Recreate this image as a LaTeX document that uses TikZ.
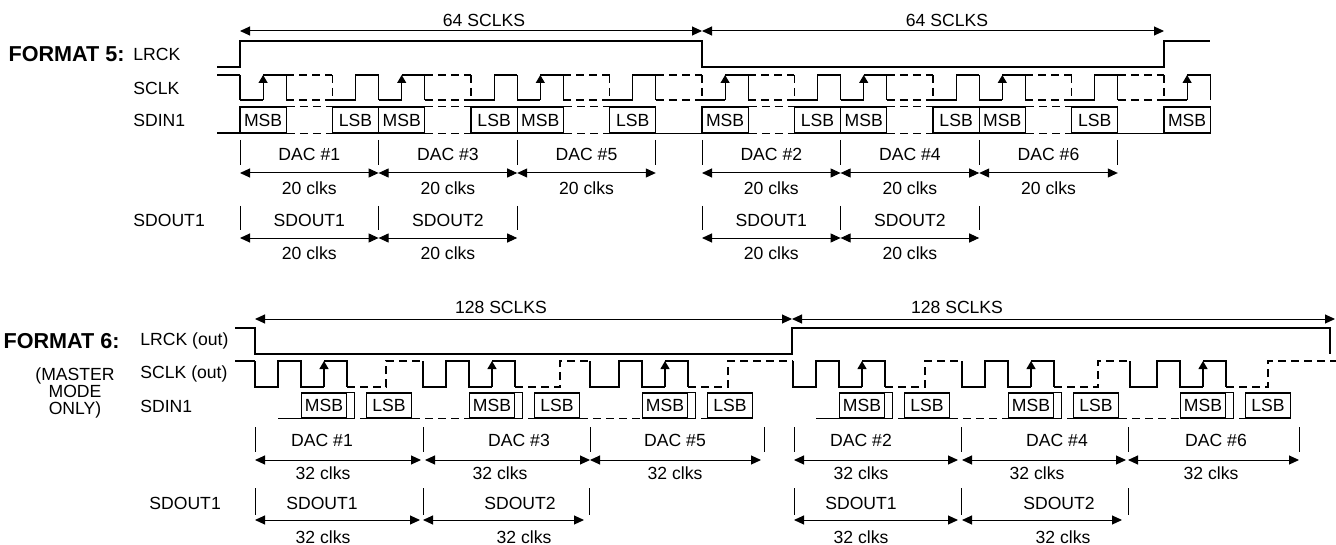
\documentclass[tikz,border=0pt]{standalone}
\usepackage{fontspec}
\setmainfont{Liberation Sans}
\usetikzlibrary{arrows.meta,calc}

\begin{document}
\begin{tikzpicture}[x=0.5pt,y=-0.5pt,
    sig/.style={line width=0.6pt},
    dsh/.style={line width=0.6pt,dash pattern=on 4pt off 2.5pt},
    clkedge/.style={line width=0.6pt,-{Triangle[length=4pt,width=4.5pt]}},
    dim/.style={line width=0.5pt,{Triangle[length=5pt,width=4.5pt]}-{Triangle[length=5pt,width=4.5pt]}},
    tck/.style={line width=0.5pt},
    txt/.style={font=\fontsize{8.8}{10}\selectfont,inner sep=0pt},
    fmt/.style={font=\fontsize{10.8}{12}\selectfont\bfseries,inner sep=0pt,anchor=east},
    bitA/.style={draw,line width=0.6pt,txt,minimum width=23.1pt,minimum height=13pt},
    bitB/.style={draw,line width=0.6pt,txt,minimum width=22.5pt,minimum height=12.5pt}]

    \useasboundingbox (0,0) rectangle (1336,545);
    \def\hfA{23.1}
    \def\hfB{23}

    % FORMAT 5
    \node[fmt] (f5) at (125,54) {FORMAT 5:};
    \node[txt,anchor=west] (lrck5) at (133,54) {LRCK};
    \node[txt,anchor=west] (sclk5) at (133,88) {SCLK};
    \node[txt,anchor=west] (sdin5) at (133,120) {SDIN1};
    \node[txt,anchor=west] (sdout5) at (133,220) {SDOUT1};

    \draw[sig] (217,67) -- (240,67) -- (240,41) -- (702,41) -- (702,67)
               -- (1164,67) -- (1164,41) -- (1210,41);

    \coordinate (t5a) at (240,31);
    \coordinate (t5b) at (702,31);
    \coordinate (t5c) at (1164,31);
    \draw[dim] (t5a) -- (t5b);
    \draw[dim] (t5b) -- (t5c);
    \node[txt] (n5a) at (484,20) {64 SCLKS};
    \node[txt] (n5b) at (947,20) {64 SCLKS};

    % SCLK and SDIN1
    \draw[sig] (217,75) -- (240,75);
    \draw[sig] (217,133) -- (240,133);
    \foreach \s [count=\i] in {240,378.6,517.2,702,840.6,979.2}{
        \draw[sig] (\s,100) -- (\s+\hfA,100);
        \draw[clkedge] (\s+\hfA,100) -- (\s+\hfA,75);
        \draw[sig] (\s+\hfA,75) -- (\s+2*\hfA,75) -- (\s+2*\hfA,100);
        \draw[dsh] (\s+2*\hfA,75) -- (\s+4*\hfA,75)
                   (\s+2*\hfA,100) -- (\s+4*\hfA,100)
                   (\s+4*\hfA,75) -- (\s+4*\hfA,100);
        \draw[sig] (\s+4*\hfA,100) -- (\s+5*\hfA,100) -- (\s+5*\hfA,75) -- (\s+6*\hfA,75);

        \node[bitA] (msb5\i) at (\s+\hfA,120) {MSB};
        \node[bitA] (lsb5\i) at (\s+5*\hfA,120) {LSB};
        \draw[dsh] (msb5\i.north east) -- (lsb5\i.north west)
                   (msb5\i.south east) -- (lsb5\i.south west);
    }
    \foreach \s in {240,378.6,517.2,655.8,840.6,979.2,1117.8}
        \draw[sig] (\s,75) -- (\s,100);
    \foreach \s in {655.8,1117.8}
        \draw[dsh] (\s,75) -- (\s+2*\hfA,75) (\s,100) -- (\s+2*\hfA,100)
                   (\s+2*\hfA,75) -- (\s+2*\hfA,100);
    \draw[sig] (1164,100) -- (1187.1,100);
    \draw[clkedge] (1187.1,100) -- (1187.1,75);
    \draw[sig] (1187.1,75) -- (1210.2,75) -- (1210.2,100);

    \node[bitA] (msb57) at (1187.1,120) {MSB};
    \draw[sig] (lsb53.south east) -- (msb54.south west);
    \draw[sig] (lsb56.south east) -- (msb57.south west);

    % DAC and SDOUT slots
    \foreach \x in {240,378.6,517.2,655.8,702,840.6,979.2,1117.8}
        \draw[tck] (\x,140) -- (\x,165);
    \foreach \xa/\xb/\lab [count=\i] in {240/378.6/1, 378.6/517.2/3, 517.2/655.8/5,
                                        702/840.6/2, 840.6/979.2/4, 979.2/1117.8/6}{
        \coordinate (d5a\i) at (\xa,173);
        \coordinate (d5b\i) at (\xb,173);
        \draw[dim] (d5a\i) -- (d5b\i);
        \node[txt] (dac5\i) at ($(d5a\i)!0.5!(d5b\i)+(0,-19)$) {DAC \#\lab};
        \node[txt] (clk5\i) at ($(d5a\i)!0.5!(d5b\i)+(0,15)$) {20 clks};
    }

    \foreach \x in {240,378.6,517.2,702,840.6,979.2}
        \draw[tck] (\x,206) -- (\x,230);
    \foreach \xa/\xb/\lab [count=\i] in {240/378.6/1, 378.6/517.2/2,
                                        702/840.6/1, 840.6/979.2/2}{
        \coordinate (o5a\i) at (\xa,238);
        \coordinate (o5b\i) at (\xb,238);
        \draw[dim] (o5a\i) -- (o5b\i);
        \node[txt] (so5\i) at ($(o5a\i)!0.5!(o5b\i)+(0,-18)$) {SDOUT\lab};
        \node[txt] (soc5\i) at ($(o5a\i)!0.5!(o5b\i)+(0,15)$) {20 clks};
    }

    % FORMAT 6
    \node[fmt] (f6) at (120,341) {FORMAT 6:};
    \node[txt,align=center,font=\fontsize{8.8}{8.6}\selectfont] (mstr) at (75,393) {(MASTER\\MODE\\ONLY)};
    \node[txt,anchor=west] (lrck6) at (140,341) {LRCK (out)};
    \node[txt,anchor=west] (sclk6) at (140,374) {SCLK (out)};
    \node[txt,anchor=west] (sdin6) at (140,406) {SDIN1};
    \node[txt,anchor=west] (sdout6) at (149,503) {SDOUT1};

    \draw[sig] (235,328) -- (255,328) -- (255,354) -- (792,354) -- (792,328)
               -- (1330,328) -- (1330,354);

    \coordinate (t6a) at (255,319);
    \coordinate (t6b) at (792,319);
    \coordinate (t6c) at (1335,319);
    \draw[dim] (t6a) -- (t6b);
    \draw[dim] (t6b) -- (t6c);
    \node[txt] (n6a) at (501,307) {128 SCLKS};
    \node[txt] (n6b) at (957,307) {128 SCLKS};

    % SCLK (out) and SDIN1
    \draw[sig] (235,361) -- (255,361);
    \foreach \s/\sa/\sd/\se [count=\i] in {255/324/386/423, 423/492/560/590, 590/665/728/793,
                                           793/862/925/962, 962/1031/1098/1130, 1130/1203/1268/1336}{
        \draw[sig] (\s,361) -- (\s,387) -- (\sa-2*\hfB,387) -- (\sa-2*\hfB,361)
                   -- (\sa-\hfB,361) -- (\sa-\hfB,387) -- (\sa,387);
        \draw[clkedge] (\sa,387) -- (\sa,361);
        \draw[sig] (\sa,361) -- (\sa+\hfB,361) -- (\sa+\hfB,387);
        \draw[dsh] (\sa+\hfB,387) -- (\sd,387) -- (\sd,361) -- (\se,361);

        \node[bitB] (msb6\i) at (\sa,405.5) {MSB};
        \node[bitB] (lsb6\i) at (\sa+65,405.5) {LSB};
        \draw[sig] (msb6\i.north east) -- ++(7,0) coordinate (stub6\i) -- (stub6\i |- msb6\i.south);
        \draw[dsh] (msb6\i.south east) -- (lsb6\i.south west);
    }
    \draw[sig] (msb61.south west) -- ++(-23,0);
    \draw[sig] (msb64.south west) -- ++(-23,0);
    \draw[dsh] (lsb61.south east) -- (msb62.south west);
    \draw[dsh] (lsb62.south east) -- (msb63.south west);
    \draw[dsh] (lsb64.south east) -- (msb65.south west);
    \draw[dsh] (lsb65.south east) -- (msb66.south west);

    % DAC and SDOUT slots
    \foreach \x in {255,423,590,764,794,961,1128,1299}
        \draw[tck] (\x,427) -- (\x,452);
    \foreach \xa/\xb/\xl/\xc/\lab [count=\i] in {255/421/322/323/1, 425/590/519/500/3,
                                                590/761/675/675/5, 794/958/861/861/2,
                                                962/1126/1057/1037/4, 1128/1299/1216/1211/6}{
        \draw[dim] (\xa,460) coordinate (d6a\i) -- (\xb,460) coordinate (d6b\i);
        \node[txt] (dac6\i) at (\xl,440) {DAC \#\lab};
        \node[txt] (clk6\i) at (\xc,473) {32 clks};
    }

    \foreach \x in {255,423,589,794,961,1128}
        \draw[tck] (\x,488) -- (\x,515);
    \foreach \xa/\xb/\xl/\xc/\lab [count=\i] in {255/420/322/323/1, 423/584/520/524/2,
                                                794/958/861/861/1, 962/1122/1059/1063/2}{
        \draw[dim] (\xa,520) coordinate (o6a\i) -- (\xb,520) coordinate (o6b\i);
        \node[txt] (so6\i) at (\xl,503) {SDOUT\lab};
        \node[txt] (soc6\i) at (\xc,537) {32 clks};
    }

\end{tikzpicture}
\end{document}
